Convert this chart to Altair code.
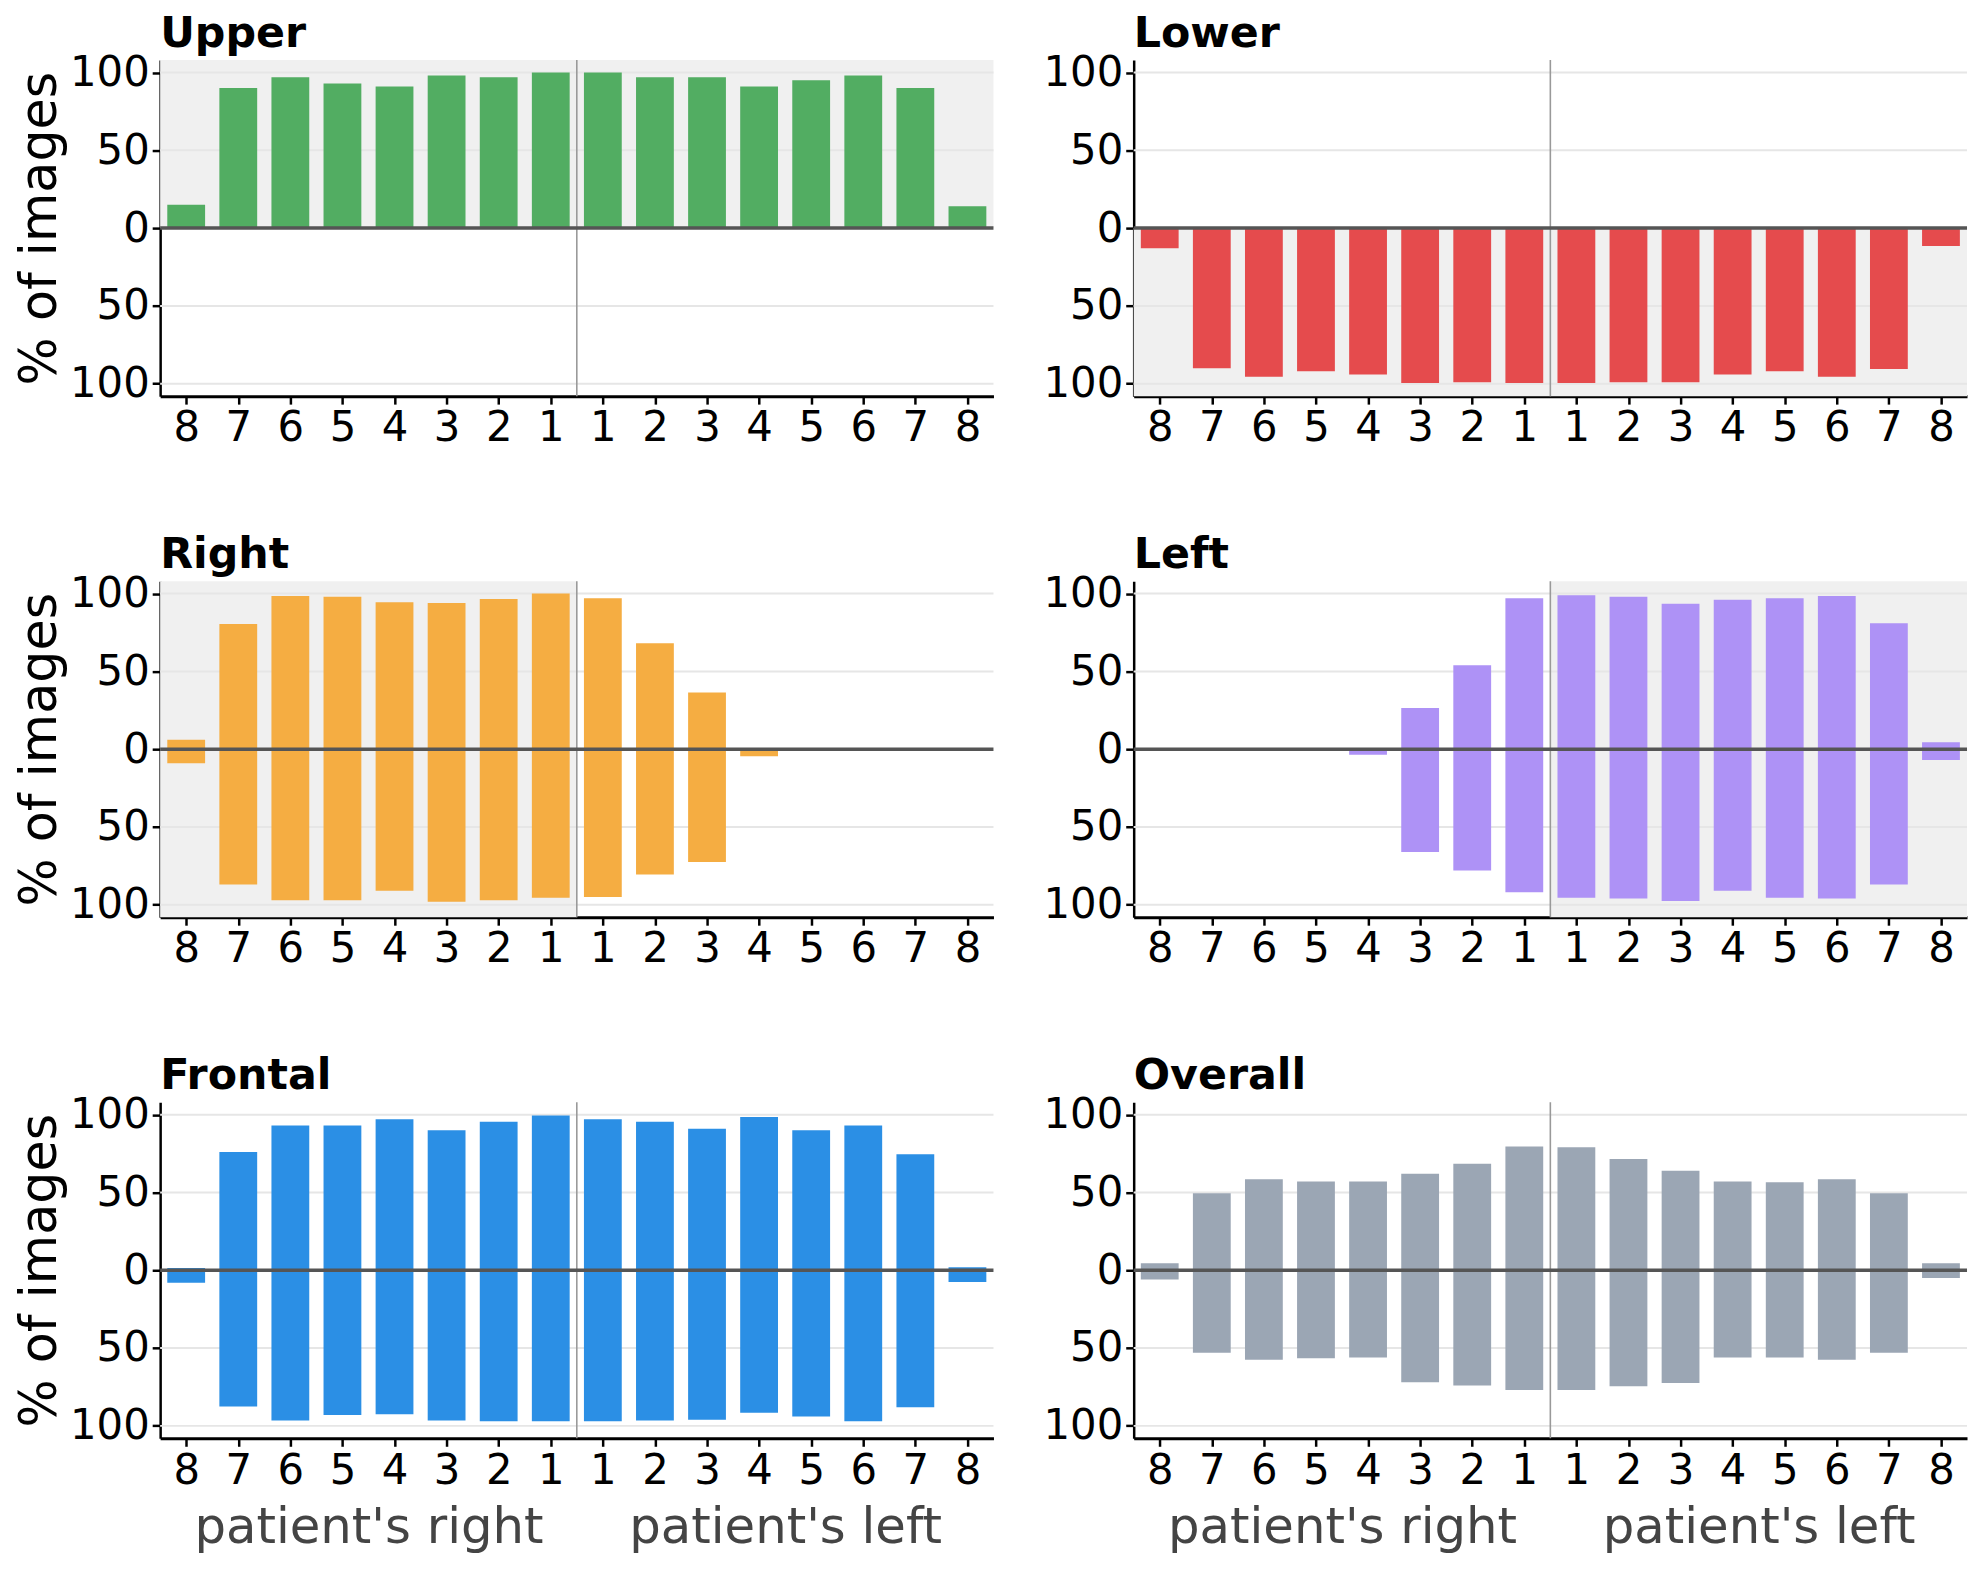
import altair as alt
import pandas as pd

# ---------------- data ----------------
teeth = ["8", "7", "6", "5", "4", "3", "2", "1", "1", "2", "3", "4", "5", "6", "7", "8"]
sides = ["patient's right", "patient's left"]
y_ticks = [-100, -50, 0, 50, 100]
grid_ticks = [-100, -50, 50, 100]

panels = ["Upper", "Lower", "Right", "Left", "Frontal", "Overall"]

upper_top = [15, 90, 97, 93, 91, 98, 97, 100, 100, 97, 97, 91, 95, 98, 90, 14]
upper_bottom = [0, 0, 0, 0, 0, 0, 0, 0, 0, 0, 0, 0, 0, 0, 0, 0]

lower_top = [0, 0, 0, 0, 0, 0, 0, 0, 0, 0, 0, 0, 0, 0, 0, 0]
lower_bottom = [13, 90, 95.5, 92, 94, 99.5, 99, 99.5, 99.5, 99, 99, 94, 92, 95.5, 90.5, 11.5]

right_top = [6, 80.5, 98.5, 98, 94.5, 94, 96.5, 100, 97, 68, 36.5, 0, 0, 0, 0, 0]
right_bottom = [9, 87, 97, 97, 91, 98, 97, 95.5, 95, 80.5, 72.5, 4.5, 0, 0, 0, 0]

left_top = [0, 0, 0, 0, 0, 26.5, 54, 97, 99, 98, 93.5, 96, 97, 98.5, 81, 4.5]
left_bottom = [0, 0, 0, 0, 3.5, 66, 78, 92, 95.5, 96, 97.5, 91, 95.5, 96, 87, 7]

frontal_top = [1.5, 76, 93, 93, 97, 90, 95.5, 99.5, 97, 95.5, 91, 98.5, 90, 93, 74.5, 2]
frontal_bottom = [8, 87.5, 96.5, 93, 92.5, 96.5, 97, 97, 97, 96.5, 96, 91.5, 94, 97, 88, 7.5]

overall_top = [4.5, 49.5, 58.5, 57, 57, 62, 68.5, 79.5, 79, 71.5, 64, 57, 56.5, 58.5, 49.5, 4.5]
overall_bottom = [6, 53, 57.5, 56.5, 56, 72, 74, 77, 77, 74.5, 72.5, 56, 56, 57.5, 53, 5]

tops = {"Upper": upper_top, "Lower": lower_top, "Right": right_top,
        "Left": left_top, "Frontal": frontal_top, "Overall": overall_top}
bottoms = {"Upper": upper_bottom, "Lower": lower_bottom, "Right": right_bottom,
           "Left": left_bottom, "Frontal": frontal_bottom, "Overall": overall_bottom}

colors = {"Upper": "#52ad62", "Lower": "#e54b4d", "Right": "#f5ad42",
          "Left": "#ae92f6", "Frontal": "#2b8fe5", "Overall": "#9ba6b4"}
shade = {"Upper": "top", "Lower": "bottom", "Right": "right", "Left": "left"}

# ---------------- layout constants ----------------
N = len(teeth)
HALF = N // 2
Y_MAX = 108
BAR_HALF = 0.363
W, H = 838, 338
FONT = "DejaVu Sans"

label_expr = "[" + ",".join("'%s'" % t for t in teeth) + "][datum.value]"


def x_enc(field):
    return alt.X(field, type="quantitative",
                 scale=alt.Scale(domain=[-0.5, N - 0.5], nice=False, zero=False),
                 axis=alt.Axis(values=list(range(N)), labelExpr=label_expr, title=None,
                               grid=False, labelAngle=0, labelFontSize=42,
                               tickSize=8, tickWidth=2.5, labelPadding=4,
                               domainWidth=3, labelFlush=False, labelOverlap=False))


def y_enc(field, with_title):
    return alt.Y(field, type="quantitative",
                 scale=alt.Scale(domain=[-Y_MAX, Y_MAX], nice=False, zero=False),
                 axis=alt.Axis(values=y_ticks, labelExpr="abs(datum.value)",
                               title="% of images" if with_title else None,
                               grid=False, labelFontSize=42, tickSize=8, tickWidth=2.5,
                               labelPadding=3, domainWidth=2.5, titleFontSize=51,
                               titleFontWeight="normal", titlePadding=3,
                               labelFlush=False, labelOverlap=False))


def panel_chart(name, with_ytitle, with_sides):
    rows = []
    for i, (t, b) in enumerate(zip(tops[name], bottoms[name])):
        if t > 0:
            rows.append({"idx": i, "v": t})
        if b > 0:
            rows.append({"idx": i, "v": -b})
    bars_df = pd.DataFrame(rows)

    layers = []

    # shaded half
    if name in shade:
        s = shade[name]
        x0, x1, y0, y1 = -0.5, N - 0.5, -Y_MAX, Y_MAX
        if s == "top":
            y0 = 0
        elif s == "bottom":
            y1 = 0
        elif s == "right":
            x1 = HALF - 0.5
        elif s == "left":
            x0 = HALF - 0.5
        bg = alt.Chart(pd.DataFrame([{"x0": x0, "x1": x1, "y0": y0, "y1": y1}])).mark_rect(
            color="#f0f0f0").encode(
            x=x_enc("x0"), x2="x1", y=y_enc("y0", with_ytitle), y2="y1")
        layers.append(bg)

    grid = alt.Chart(pd.DataFrame({"g": grid_ticks})).mark_rule(
        color="#e6e6e6", strokeWidth=2).encode(y=y_enc("g", with_ytitle))
    layers.append(grid)

    divider = alt.Chart(pd.DataFrame({"d": [HALF - 0.5]})).mark_rule(
        color="#999999", strokeWidth=1.6).encode(x=x_enc("d"))
    layers.append(divider)

    bars = alt.Chart(bars_df).transform_calculate(
        xa="datum.idx - %f" % BAR_HALF, xb="datum.idx + %f" % BAR_HALF, base="0"
    ).mark_bar(color=colors[name]).encode(
        x=x_enc("xa"), x2="xb", y=y_enc("v", with_ytitle), y2="base:Q")
    layers.append(bars)

    zero = alt.Chart(pd.DataFrame({"z": [0]})).mark_rule(
        color="#555555", strokeWidth=3.5).encode(y=y_enc("z", with_ytitle))
    layers.append(zero)

    chart = alt.layer(*layers)

    if with_sides:
        side_layer = alt.Chart(pd.DataFrame({"side": sides})).mark_point(opacity=0).encode(
            x=alt.X("side:N", sort=sides,
                    scale=alt.Scale(type="point", padding=0.5),
                    axis=alt.Axis(orient="bottom", offset=65, domain=False, ticks=False,
                                  grid=False, labelFontSize=50, labelColor="#444444",
                                  labelPadding=0, labelAngle=0, title=None,
                                  labelLimit=0, labelOverlap=False)))
        chart = alt.layer(chart, side_layer).resolve_scale(x="independent")

    return chart.properties(
        width=W, height=H,
        title=alt.TitleParams(text=name, anchor="start", frame="group", fontSize=43,
                              fontWeight="bold", color="black", offset=-4, font=FONT))


rows_charts = []
for r in range(3):
    left_name = panels[2 * r]
    right_name = panels[2 * r + 1]
    bottom = r == 2
    rows_charts.append(alt.hconcat(
        panel_chart(left_name, True, bottom),
        panel_chart(right_name, False, bottom),
        spacing=47))

chart = alt.vconcat(*rows_charts, spacing=85).properties(
    padding={"left": 6, "top": 0, "right": 0, "bottom": 0}
).configure(font=FONT).configure_axis(
    domainColor="black", tickColor="black", labelColor="black", titleColor="black",
    labelFont=FONT, titleFont=FONT
).configure_view(strokeWidth=0)

chart.save("out.html", embed_options={"renderer": "svg", "actions": False})
